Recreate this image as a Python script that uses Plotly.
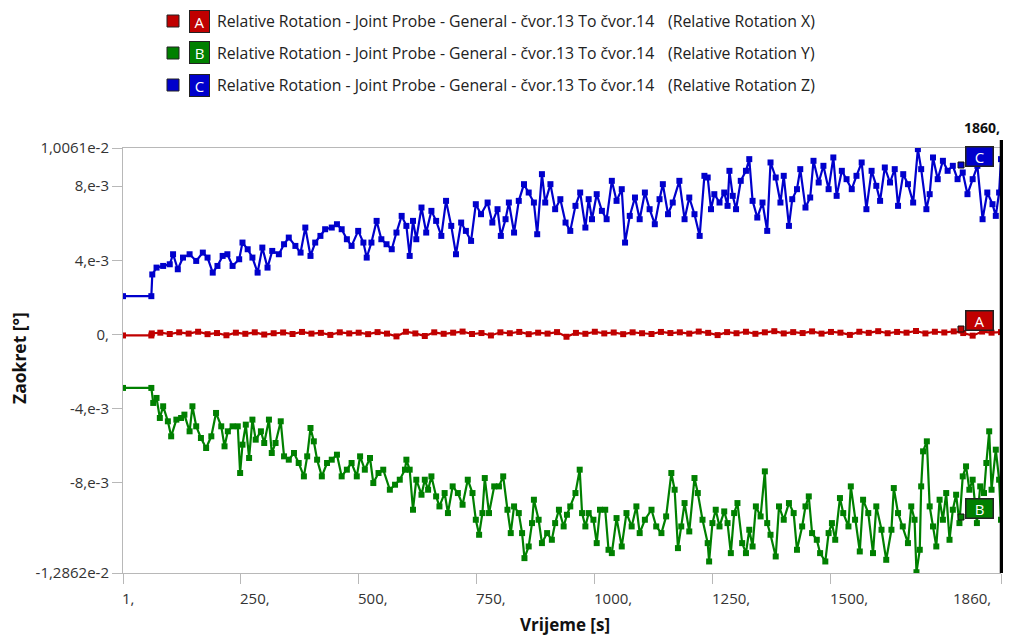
import plotly.graph_objects as go

# ---------------- data (values in units of 1e-3 degrees) ----------------
time_z = [1, 61, 63, 72, 86, 100, 107, 117, 128, 142, 156, 170, 180, 191, 201, 212, 222, 233, 247, 254,
          265, 275, 286, 296, 307, 317, 331, 342, 352, 366, 377, 387, 398, 408, 419, 429, 443, 454, 464, 475,
          485, 499, 510, 517, 527, 538, 548, 559, 570, 580, 591, 601, 608, 615, 622, 633, 643, 654, 664, 675,
          685, 696, 706, 717, 727, 738, 748, 759, 773, 783, 794, 801, 811, 818, 829, 839, 850, 860, 871, 878,
          888, 895, 906, 916, 927, 938, 948, 959, 969, 980, 987, 994, 1004, 1015, 1025, 1036, 1046, 1057, 1064, 1074,
          1085, 1095, 1106, 1116, 1127, 1137, 1144, 1155, 1165, 1179, 1190, 1200, 1211, 1222, 1232, 1239, 1246, 1253, 1264, 1274,
          1281, 1285, 1292, 1299, 1309, 1320, 1327, 1334, 1344, 1355, 1365, 1372, 1383, 1393, 1400, 1411, 1418, 1428, 1435, 1446,
          1456, 1463, 1474, 1484, 1495, 1505, 1512, 1523, 1533, 1544, 1554, 1565, 1575, 1586, 1596, 1604, 1614, 1625, 1635, 1642,
          1653, 1663, 1674, 1684, 1691, 1702, 1709, 1716, 1726, 1737, 1747, 1758, 1768, 1779, 1789, 1800, 1810, 1821, 1831, 1842,
          1849, 1856, 1860]
rot_z = [2.07, 2.07, 3.24, 3.61, 3.70, 3.79, 4.33, 3.52, 4.15, 4.33, 3.97, 4.42, 4.15, 3.34, 3.70, 4.24, 4.33, 3.70, 4.06, 4.96,
         4.60, 4.15, 3.34, 4.69, 3.61, 4.51, 4.33, 4.87, 5.23, 4.78, 4.42, 5.77, 4.24, 4.96, 5.32, 5.68, 5.77, 5.95, 5.68, 5.14,
         4.78, 5.59, 4.96, 4.15, 4.96, 6.13, 5.14, 4.87, 4.60, 5.50, 6.40, 5.86, 4.24, 6.13, 5.14, 6.85, 5.50, 6.67, 6.13, 5.32,
         7.21, 5.86, 4.33, 6.04, 5.59, 5.05, 7.03, 6.49, 7.12, 6.04, 6.76, 5.32, 6.22, 7.12, 5.50, 7.21, 8.11, 7.66, 7.12, 5.41,
         8.65, 7.12, 8.11, 6.76, 7.30, 6.04, 5.59, 6.94, 7.66, 5.77, 7.30, 6.22, 7.57, 6.67, 6.22, 8.29, 7.21, 7.84, 4.96, 6.40,
         7.39, 6.22, 7.66, 6.76, 5.95, 7.30, 8.11, 6.49, 7.12, 8.29, 6.22, 7.39, 6.49, 5.32, 8.56, 8.47, 6.76, 7.57, 7.12, 7.66,
         6.94, 8.83, 7.48, 6.76, 8.29, 8.83, 9.46, 7.21, 6.31, 7.12, 5.59, 9.28, 8.47, 7.12, 8.56, 5.86, 7.30, 7.84, 8.92, 6.85,
         7.39, 9.37, 8.20, 9.10, 7.84, 9.55, 7.48, 8.83, 8.38, 7.84, 8.56, 9.28, 6.76, 8.83, 8.02, 7.21, 9.01, 8.20, 8.92, 6.94,
         8.65, 8.11, 7.12, 10.00, 8.92, 6.76, 7.57, 9.55, 8.38, 9.37, 8.83, 9.10, 8.38, 8.74, 7.57, 8.38, 9.10, 6.22, 7.66, 7.03,
         6.40, 7.66, 9.46]

time_y = [1, 61, 65, 72, 79, 86, 96, 103, 114, 124, 131, 142, 148, 156, 166, 177, 188, 198, 209, 216,
          223, 233, 244, 249, 254, 261, 268, 275, 282, 293, 300, 310, 316, 324, 335, 342, 352, 363, 373, 384,
          391, 398, 405, 412, 422, 433, 443, 454, 464, 475, 485, 496, 503, 513, 524, 531, 542, 552, 566, 577,
          587, 598, 601, 608, 615, 622, 633, 640, 647, 654, 664, 671, 682, 689, 699, 710, 720, 731, 741, 748,
          755, 762, 767, 776, 787, 797, 806, 815, 822, 829, 839, 846, 851, 860, 867, 871, 881, 888, 899, 909,
          916, 924, 934, 941, 948, 959, 968, 973, 980, 987, 997, 1004, 1011, 1022, 1029, 1036, 1046, 1057, 1067, 1078,
          1088, 1095, 1106, 1120, 1130, 1141, 1151, 1162, 1169, 1176, 1183, 1190, 1200, 1211, 1218, 1228, 1239, 1242, 1249, 1256,
          1264, 1274, 1281, 1288, 1295, 1302, 1312, 1320, 1327, 1334, 1341, 1351, 1360, 1365, 1372, 1383, 1390, 1400, 1411, 1421,
          1428, 1439, 1446, 1453, 1460, 1470, 1477, 1488, 1495, 1502, 1509, 1519, 1526, 1537, 1542, 1551, 1561, 1568, 1579, 1589,
          1596, 1607, 1617, 1628, 1633, 1642, 1652, 1663, 1670, 1677, 1681, 1688, 1691, 1695, 1703, 1709, 1716, 1723, 1730, 1737,
          1744, 1751, 1758, 1765, 1772, 1779, 1786, 1793, 1800, 1809, 1816, 1824, 1829, 1835, 1840, 1849, 1856, 1860]
rot_y = [-2.88, -2.88, -3.69, -3.42, -4.50, -3.87, -4.68, -5.49, -4.59, -4.50, -4.32, -5.22, -3.87, -4.95, -5.58, -6.12, -5.49, -4.23, -4.95, -6.03,
         -5.22, -4.95, -4.95, -7.47, -5.94, -4.86, -6.66, -4.59, -5.67, -5.22, -5.85, -4.59, -6.39, -5.85, -4.68, -6.57, -6.75, -6.39, -6.93, -7.65,
         -6.57, -5.04, -5.76, -6.75, -7.65, -6.93, -6.75, -6.48, -7.65, -7.29, -6.93, -7.65, -6.57, -7.29, -6.66, -8.01, -7.47, -7.29, -8.37, -8.10,
         -7.83, -7.29, -6.75, -7.29, -9.45, -7.83, -8.64, -7.83, -8.37, -7.65, -8.73, -9.27, -8.55, -9.63, -8.19, -8.55, -9.18, -7.83, -8.55, -9.99,
         -10.80, -9.63, -7.74, -9.63, -8.19, -8.19, -7.65, -9.45, -10.71, -9.27, -9.63, -10.71, -12.06, -11.43, -10.17, -8.91, -9.99, -11.25, -10.71, -11.07,
         -10.17, -9.45, -10.35, -9.72, -9.27, -8.55, -7.29, -9.63, -10.35, -9.63, -9.99, -11.25, -9.45, -9.45, -11.61, -11.79, -9.90, -11.43, -9.63, -10.35,
         -9.27, -10.71, -9.99, -9.45, -10.35, -10.71, -9.81, -7.47, -8.37, -11.52, -10.35, -9.09, -10.62, -7.74, -8.55, -9.99, -11.25, -12.24, -10.17, -9.45,
         -10.35, -9.54, -10.17, -11.79, -9.63, -9.09, -11.25, -11.79, -10.53, -11.43, -9.27, -9.81, -7.38, -10.17, -10.80, -11.97, -9.27, -9.99, -9.09, -9.63,
         -11.61, -10.35, -9.27, -8.73, -10.71, -11.07, -11.79, -12.24, -10.71, -10.17, -11.07, -8.82, -9.63, -10.35, -8.19, -9.99, -11.70, -8.91, -9.63, -11.79,
         -9.27, -10.53, -12.15, -10.53, -8.28, -9.63, -10.35, -11.25, -9.27, -9.99, -12.82, -11.61, -8.19, -6.30, -5.76, -9.27, -10.35, -11.43, -8.91, -9.99,
         -8.55, -11.07, -9.45, -8.64, -10.17, -7.65, -7.11, -8.37, -7.83, -10.17, -8.19, -8.55, -6.93, -5.22, -8.37, -6.21, -7.83, -9.99]

time_x = [1, 61, 62, 80, 100, 120, 140, 160, 180, 200, 220, 240, 260, 280, 300, 320, 340, 360, 380, 400,
          420, 440, 460, 480, 500, 520, 540, 560, 580, 600, 620, 640, 660, 680, 700, 720, 740, 760, 780, 800,
          820, 840, 860, 880, 900, 920, 940, 960, 980, 1000, 1020, 1040, 1060, 1080, 1100, 1120, 1140, 1160, 1180, 1200,
          1220, 1240, 1260, 1280, 1300, 1320, 1340, 1360, 1380, 1400, 1420, 1440, 1460, 1480, 1500, 1520, 1540, 1560, 1580, 1600,
          1620, 1640, 1660, 1680, 1700, 1720, 1740, 1760, 1780, 1800, 1820, 1840, 1860]
rot_x = [-0.05, -0.05, 0.06, 0.10, 0.03, 0.12, 0.05, 0.15, 0.02, 0.08, -0.04, 0.10, 0.04, 0.12, 0.00, 0.07, 0.11, 0.03, 0.14, 0.05,
         0.09, -0.02, 0.12, 0.06, 0.10, 0.02, 0.13, 0.05, -0.10, 0.15, 0.06, -0.08, 0.12, 0.04, 0.10, 0.16, 0.03, 0.08, -0.05, 0.12,
         0.07, 0.14, 0.02, 0.10, 0.05, 0.13, -0.12, 0.09, 0.04, 0.15, 0.06, 0.11, 0.02, 0.12, 0.07, 0.03, 0.14, 0.08, 0.12, 0.05,
         0.16, 0.09, -0.03, 0.13, 0.07, 0.15, 0.04, 0.12, 0.18, 0.06, 0.13, 0.08, 0.17, 0.05, 0.14, 0.10, -0.02, 0.15, 0.09, 0.18,
         0.07, 0.14, 0.10, 0.19, 0.06, 0.15, 0.11, 0.17, 0.08, -0.06, 0.16, 0.10, 0.13]

x_ticks = [1, 250, 500, 750, 1000, 1250, 1500, 1860]
x_ticktext = ["1,", "250,", "500,", "750,", "1000,", "1250,", "1500,", "1860,"]
y_ticks = [10.061e-3, 8e-3, 4e-3, 0, -4e-3, -8e-3, -12.862e-3]
y_ticktext = ["1,0061e-2", "8,e-3", "4,e-3", "0,", "-4,e-3", "-8,e-3", "-1,2862e-2"]

series_name = "Relative Rotation - Joint Probe - General - čvor.13 To čvor.14"
components = ["(Relative Rotation X)", "(Relative Rotation Y)", "(Relative Rotation Z)"]
letters = ["A", "B", "C"]
colors = ["#c00000", "#008000", "#0000cc"]

# ---------------- figure ----------------
FONT = "Open Sans"
fig = go.Figure()
for t, v, c, comp in [(time_x, rot_x, colors[0], components[0]),
                      (time_y, rot_y, colors[1], components[1]),
                      (time_z, rot_z, colors[2], components[2])]:
    fig.add_trace(go.Scatter(
        x=t, y=[val * 1e-3 for val in v], mode="lines+markers",
        line=dict(color=c, width=2.2),
        marker=dict(symbol="square", size=6, color=c),
        name=series_name + " " + comp, showlegend=False))

# page is offset by the 8px body margin; visible page area ends near x=1003
W, H = 995, 627
L, T = 115, 140
PW, PH = 878, 425
R, B = W - L - PW, H - T - PH
RIGHT = 123 + PW  # page x of the plot's right edge


def px(xp):  # page pixel x -> paper
    return (xp - 123) / PW


def py(yp):  # page pixel y -> paper
    return (573 - yp) / PH


fig.update_layout(
    width=W, height=H, margin=dict(l=L, r=R, t=T, b=B, pad=0),
    paper_bgcolor="white", plot_bgcolor="white",
    font=dict(family=FONT, size=15, color="#222"),
    xaxis=dict(range=[1, 1860], tickvals=x_ticks, showticklabels=False,
               showgrid=False, zeroline=False, showline=True, mirror=True,
               linecolor="#b8b8b8", linewidth=1, ticks="outside", ticklen=10,
               tickcolor="#b8b8b8"),
    yaxis=dict(range=[-12.862e-3, 10.061e-3], tickvals=y_ticks, ticktext=y_ticktext,
               showgrid=False, zeroline=False, showline=True,
               linecolor="#b8b8b8", linewidth=1, ticks="outside", ticklen=10,
               tickcolor="#b8b8b8", tickfont=dict(size=15, color="#333")),
)

shapes = []
ann = []

# x tick labels
for v, txt in zip(x_ticks, x_ticktext):
    last = v == x_ticks[-1]
    ann.append(dict(x=v, xref="x", y=py(598), yref="paper", text=txt, showarrow=False,
                    xanchor="right" if last else "left", yanchor="middle",
                    xshift=-8 if last else -3,
                    font=dict(size=15, color="#333")))

# axis titles
ann.append(dict(x=px(565), xref="paper", y=py(624), yref="paper", text="<b>Vrijeme [s]</b>",
                showarrow=False, xanchor="center", yanchor="middle",
                font=dict(size=17, color="#111")))
ann.append(dict(x=px(19), xref="paper", y=py(358), yref="paper", text="<b>Zaokret [°]</b>",
                showarrow=False, textangle=-90, xanchor="center", yanchor="middle",
                font=dict(size=17.5, color="#111")))

# cursor line at the last time step (right edge of the plot area)
shapes.append(dict(type="line", xref="paper", x0=px(RIGHT + 0.5), x1=px(RIGHT + 0.5), yref="paper",
                   y0=0, y1=py(140), line=dict(color="black", width=3.5)))
ann.append(dict(x=px(RIGHT + 1), xref="paper", y=py(127), yref="paper", text="<b>1860,</b>",
                showarrow=False, xanchor="right", yanchor="middle",
                font=dict(size=14, color="#111")))

# legend (custom)
row_y = [21, 53, 85]
for i in range(3):
    yc = row_y[i]
    shapes.append(dict(type="rect", xref="paper", yref="paper",
                       x0=px(167), x1=px(179), y0=py(yc + 6), y1=py(yc - 6),
                       fillcolor=colors[i], line=dict(color="#222", width=1)))
    ann.append(dict(x=px(199), xref="paper", y=py(yc), yref="paper", text=letters[i],
                    showarrow=False, xanchor="center", yanchor="middle",
                    bgcolor=colors[i], bordercolor="#222", borderwidth=1,
                    width=19, height=21, borderpad=0, font=dict(size=15, color="white")))
    ann.append(dict(x=px(215), xref="paper", y=py(yc), yref="paper", text=series_name,
                    showarrow=False, xanchor="left", yanchor="middle",
                    font=dict(size=15.8, color="#222")))
    ann.append(dict(x=px(666), xref="paper", y=py(yc), yref="paper", text=components[i],
                    showarrow=False, xanchor="left", yanchor="middle",
                    font=dict(size=15.8, color="#222")))

# end-of-series labels
end_label_y = [320, 508, 156]
for i in range(3):
    yc = end_label_y[i]
    shapes.append(dict(type="rect", xref="paper", yref="paper",
                       x0=px(RIGHT - 43), x1=px(RIGHT - 37), y0=py(yc + 12), y1=py(yc + 6),
                       fillcolor=colors[i], line=dict(color="#111", width=1)))
    ann.append(dict(x=px(RIGHT - 21.5), xref="paper", y=py(yc), yref="paper", text=letters[i],
                    showarrow=False, xanchor="center", yanchor="middle",
                    bgcolor=colors[i], bordercolor="#222", borderwidth=1.5,
                    width=26, height=18, borderpad=0, font=dict(size=15, color="white")))

fig.update_layout(shapes=shapes, annotations=ann)
fig.write_html("out.html")
